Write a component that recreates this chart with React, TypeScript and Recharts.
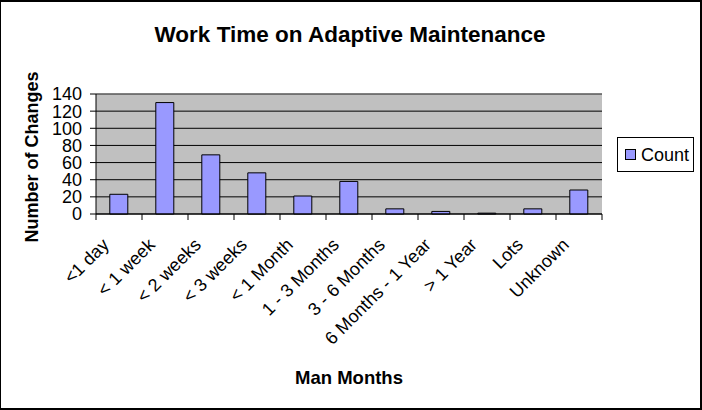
import React from 'react';
import { BarChart, Bar, XAxis, YAxis, CartesianGrid, Legend, ReferenceLine } from 'recharts';

const categories = ['<1 day', '< 1 week', '< 2 weeks', '< 3 weeks', '< 1 Month', '1 - 3 Months', '3 - 6 Months', '6 Months - 1 Year', '> 1 Year', 'Lots', 'Unknown'];
const counts = [23, 130, 69, 48, 21, 38, 6, 3, 1, 6, 28];
const yTicks = [0, 20, 40, 60, 80, 100, 120, 140];
const seriesName = 'Count';
const titleText = 'Work Time on Adaptive Maintenance';
const xLabelText = 'Man Months';
const yLabelText = 'Number of Changes';

const data = categories.map((c, i) => ({ category: c, count: counts[i] }));

const FONT = '"Liberation Sans", Arial, sans-serif';
const BAR_FILL = '#9999FF';

const XTick = (props: any) => {
  const { x, y, payload, index } = props;
  const half = payload && payload.offset ? payload.offset : 23;
  const last = index === categories.length - 1;
  const ax = x - 9;
  const ay = y + 32;
  return (
    <g>
      <line x1={x - half} y1={y} x2={x - half} y2={y + 6} stroke="#000" strokeWidth={1} />
      {last && <line x1={x + half} y1={y} x2={x + half} y2={y + 6} stroke="#000" strokeWidth={1} />}
      <text
        x={ax}
        y={ay}
        transform={`rotate(-45 ${ax} ${ay})`}
        textAnchor="end"
        fontSize={18}
        fontFamily={FONT}
        fill="#000"
      >
        {payload.value}
      </text>
    </g>
  );
};

const LegendBox = () => (
  <svg width={78} height={36} style={{ display: 'block' }}>
    <rect x={0.5} y={0.5} width={76} height={34} fill="#fff" stroke="#000" strokeWidth={1} />
    <rect x={8.5} y={12.5} width={10} height={10} fill={BAR_FILL} stroke="#000" strokeWidth={1} />
    <text x={24} y={24} fontSize={18} fontFamily={FONT} fill="#000">{seriesName}</text>
  </svg>
);

export default function App() {
  return (
    <div style={{ position: 'absolute', left: 0, top: 0, width: 702, height: 410, background: '#fff' }}>
      <BarChart
        width={702}
        height={410}
        data={data}
        margin={{ top: 94, right: 100, bottom: 0, left: 0 }}
        barCategoryGap="30%"
      >
        <CartesianGrid vertical={false} stroke="#000" fill="#C0C0C0" fillOpacity={1} />
        <XAxis
          dataKey="category"
          interval={0}
          height={196}
          tickSize={0}
          tickMargin={0}
          tick={<XTick />}
          axisLine={{ stroke: '#000' }}
        />
        <YAxis
          width={96}
          domain={[0, 140]}
          ticks={yTicks}
          interval={0}
          tickSize={6}
          tickMargin={8}
          axisLine={{ stroke: '#000' }}
          tickLine={{ stroke: '#000' }}
          tick={{ fontSize: 18, fontFamily: FONT, fill: '#000' }}
        />
        <YAxis
          yAxisId="r"
          orientation="right"
          width={0}
          domain={[0, 140]}
          tick={false}
          tickLine={false}
          axisLine={{ stroke: '#808080' }}
        />
        <ReferenceLine y={140} stroke="#808080" />
        <Legend
          layout="horizontal"
          verticalAlign="middle"
          align="center"
          wrapperStyle={{ left: 617, top: 137, width: 80 }}
          content={() => <LegendBox />}
        />
        <Bar dataKey="count" name={seriesName} fill={BAR_FILL} stroke="#000" strokeWidth={1} isAnimationActive={false} />
      </BarChart>
      <svg width={702} height={410} style={{ position: 'absolute', left: 0, top: 0, pointerEvents: 'none' }}>
        <text x={350} y={42} textAnchor="middle" fontSize={22.5} fontWeight="bold" fontFamily={FONT} fill="#000">{titleText}</text>
        <text x={349} y={384} textAnchor="middle" fontSize={18.5} fontWeight="bold" fontFamily={FONT} fill="#000">{xLabelText}</text>
        <text x={38} y={157} transform="rotate(-90 38 157)" textAnchor="middle" fontSize={18} fontWeight="bold" fontFamily={FONT} fill="#000">{yLabelText}</text>
      </svg>
      <div style={{ position: 'absolute', left: 0, top: 0, width: 702, height: 410, boxSizing: 'border-box', borderTop: '2px solid #000', borderRight: '2px solid #000', borderBottom: '2px solid #000', borderLeft: '1px solid #000', pointerEvents: 'none' }} />
    </div>
  );
}
